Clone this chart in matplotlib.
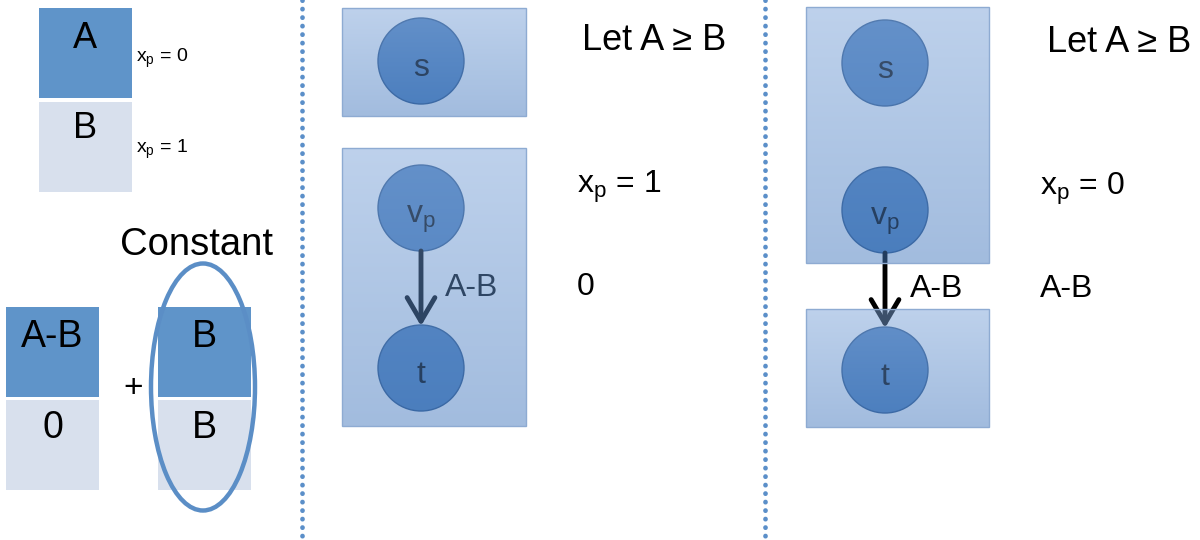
"""
Min-cut construction for a single pixel term: split the unary cost into
(A-B, 0) + constant, then show the two s/t graph cuts for x_p = 1 and x_p = 0.
"""

import matplotlib.pyplot as plt
import numpy as np
from matplotlib.colors import to_rgb
from matplotlib.patches import Circle, Ellipse, Rectangle

plt.rcParams["font.family"] = ["Liberation Sans", "DejaVu Sans"]
plt.rcParams["mathtext.fontset"] = "custom"
plt.rcParams["mathtext.rm"] = "Liberation Sans"

# left panel: unary cost table and its decomposition
cost_labels = ["A", "B"]
cost_xp = [r"x$_\mathregular{p}$ = 0", r"x$_\mathregular{p}$ = 1"]
split_left = ["A-B", "0"]
split_right = ["B", "B"]

# graph panels
node_labels = ["s", r"v$_\mathregular{p}$", "t"]
panel_titles = ["Let A \u2265 B", "Let A \u2265 B"]
panel_xp = [r"x$_\mathregular{p}$ = 1", r"x$_\mathregular{p}$ = 0"]
panel_cost = ["0", "A-B"]
edge_label = "A-B"

DARK = "#5f94c9"
LIGHT = "#d8e0ed"
NODE = "#4f81bd"


def gradient_box(ax, x0, y0, x1, y1):
    top = np.array(to_rgb("#7ca3d8"))
    bot = np.array(to_rgb("#4479be"))
    n = 64
    t = np.linspace(0, 1, n)[:, None]
    rgb = top * (1 - t) + bot * t
    img = np.dstack([rgb[:, None, :].repeat(2, axis=1),
                     np.full((n, 2, 1), 0.5)]).reshape(n, 2, 4)
    ax.imshow(img, extent=(x0, x1, y1, y0), origin="upper",
              aspect="auto", interpolation="bilinear", zorder=5)
    ax.add_patch(Rectangle((x0, y0), x1 - x0, y1 - y0, fill=False,
                           ec="#8eabd2", lw=1, zorder=6))


def node(ax, cx, cy, label):
    ax.add_patch(Circle((cx, cy), 43, fc=NODE, ec="#2d568a", lw=1, zorder=2))
    ax.text(cx, cy + 15, label, ha="center", va="baseline",
            fontsize=23, color="black", zorder=3)


def edge(ax, x, y0, y1):
    ax.annotate("", xy=(x, y1), xytext=(x, y0),
                arrowprops=dict(arrowstyle="->,head_length=0.85,head_width=0.5",
                                mutation_scale=20, color="black", lw=3.5,
                                shrinkA=0, shrinkB=0),
                zorder=3)


fig = plt.figure(figsize=(12, 5.4), dpi=100)
ax = fig.add_axes([0, 0, 1, 1])
ax.set_xlim(0, 1200)
ax.set_ylim(540, 0)
ax.axis("off")

# --- left panel ---
for i, (lab, xp, base, xp_base) in enumerate(zip(cost_labels, cost_xp, [48, 138], [62, 153])):
    y0 = 8 + i * 94
    ax.add_patch(Rectangle((39, y0), 93, 90, fc=DARK if i == 0 else LIGHT, ec="none"))
    ax.text(85, base, lab, ha="center", va="baseline", fontsize=26)
    ax.text(136, xp_base, xp, ha="left", va="baseline", fontsize=14)

for col, (x0, labels) in enumerate([(6, split_left), (158, split_right)]):
    for i, lab in enumerate(labels):
        y0 = 307 + i * 93
        ax.add_patch(Rectangle((x0, y0), 93, 90, fc=DARK if i == 0 else LIGHT, ec="none"))
        ax.text(x0 + 46.5, y0 + 40 - 2 * i, lab, ha="center", va="baseline", fontsize=27)

ax.text(133, 388, "+", ha="center", va="center", fontsize=24)
ax.text(196, 255, "Constant", ha="center", va="baseline", fontsize=27.5)
ax.add_patch(Ellipse((203, 387), 104, 247, fill=False, ec="#5b8ec6", lw=3.2, zorder=4))

# dotted separators
for x in (302, 765):
    ax.plot([x, x], [0, 540], color="#5b8fc9", lw=3.4,
            linestyle=(0, (0.05, 1.75)), dash_capstyle="round")

# --- middle panel: x_p = 1 (v_p on sink side) ---
mx = 421
for cy, lab in zip([61, 208, 368], node_labels):
    node(ax, mx, cy, lab)
edge(ax, mx, 251, 326)
ax.text(445, 296, edge_label, ha="left", va="baseline", fontsize=23)
gradient_box(ax, 342, 8, 526, 116)
gradient_box(ax, 342, 148, 526, 426)

# --- right panel: x_p = 0 (v_p on source side) ---
rx = 885
for cy, lab in zip([63, 210, 370], node_labels):
    node(ax, rx, cy, lab)
edge(ax, rx, 253, 328)
ax.text(910, 297, edge_label, ha="left", va="baseline", fontsize=23, zorder=7)
gradient_box(ax, 806, 7, 989, 263)
gradient_box(ax, 806, 309, 989, 427)

# right-hand annotations
for x0, title, xp, cost, dy in zip([582, 1047], panel_titles, panel_xp, panel_cost, [0, 2]):
    ax.text(x0, 50 + dy, title, ha="left", va="baseline", fontsize=26)
    ax.text(x0 - 5 - dy, 193 + dy, xp, ha="left", va="baseline", fontsize=23)
    ax.text(x0 - 5 - dy, 295 + dy, cost, ha="left", va="baseline", fontsize=23)

fig.savefig("out.png", dpi=100)
